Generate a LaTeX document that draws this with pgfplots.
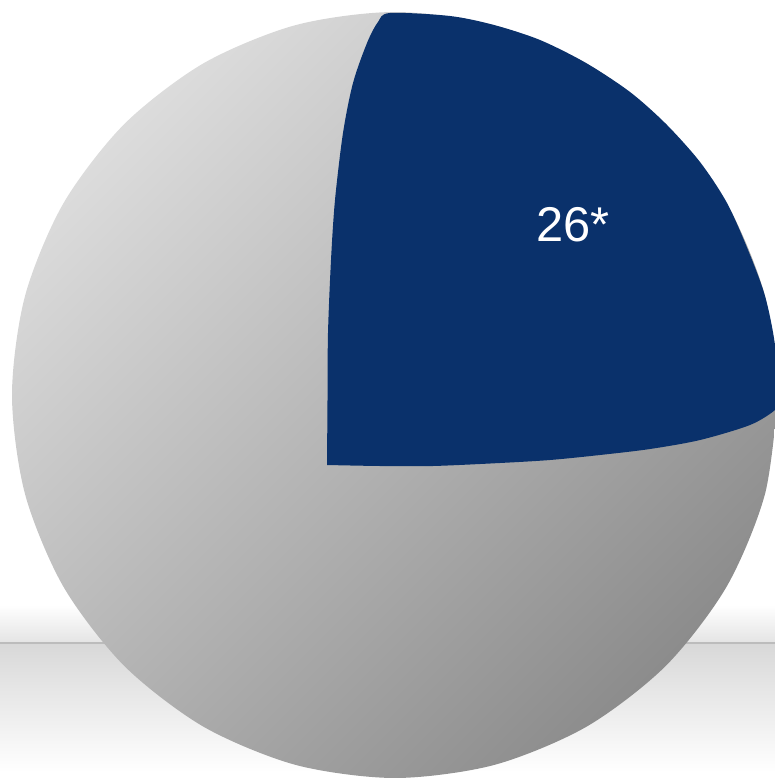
\documentclass[border=0pt]{standalone}
\usepackage{fontspec}
\setmainfont{Liberation Sans}
\usepackage{pgfplots}
\pgfplotsset{compat=1.18}
\definecolor{sliceblue}{RGB}{10,49,107}
\definecolor{lightg}{RGB}{220,220,220}
\definecolor{darkg}{RGB}{140,140,140}
\begin{document}
\begin{tikzpicture}
\begin{axis}[
  width=775bp, height=778bp, scale only axis,
  xmin=0, xmax=775, ymin=0, ymax=778, y dir=reverse,
  hide axis, clip=true,
]
% background band
\addplot[draw=none, top color=white, bottom color={rgb,255:red,228;green,228;blue,228}] coordinates {(0,605) (775,605) (775,643) (0,643)} -- cycle;
\addplot[draw=none, top color={rgb,255:red,216;green,216;blue,216}, bottom color=white] coordinates {(0,643) (775,643) (775,772) (0,772)} -- cycle;
\addplot[draw={rgb,255:red,188;green,188;blue,188}, line width=1.2bp] coordinates {(0,643) (775,643)};
% whole pie (gray)
\addplot[draw=none, smooth, top color=lightg, bottom color=darkg, shading angle=45] coordinates {
(778,395) (764.95,494.13) (726.69,586.5) (665.82,665.82) (586.5,726.69) (494.13,764.95)
(395,778) (295.87,764.95) (203.5,726.69) (124.18,665.82) (63.31,586.5) (25.05,494.13)
(12,395) (25.05,295.87) (63.31,203.5) (124.18,124.18) (203.5,63.31) (295.87,25.05)
(395,12) (494.13,25.05) (586.5,63.31) (665.82,124.18) (726.69,203.5) (764.95,295.87) (778,395)
} -- cycle;
% 26% slice
\addplot[draw=none, fill=sliceblue, smooth] coordinates {
(327,465) (327.5,400) (328,333) (331,260) (335,200) (343,133) (353,83) (367,43) (378,22) (390,13)
(450,16) (494,25) (540,40) (586,63) (630,92) (666,124) (700,162) (727,203) (748,250) (765,296) (775,345) (779,400)
(775,410) (750,425) (700,440) (650,449) (600,455) (550,460) (500,463) (433,466) (380,466) (327,465)
} -- cycle;
\node[text=white, font=\fontsize{49}{50}\selectfont] at (axis cs:573,225) {26*};
\end{axis}
\pgfresetboundingbox
\useasboundingbox (current axis.south west) rectangle (current axis.north east);
\end{tikzpicture}
\end{document}
